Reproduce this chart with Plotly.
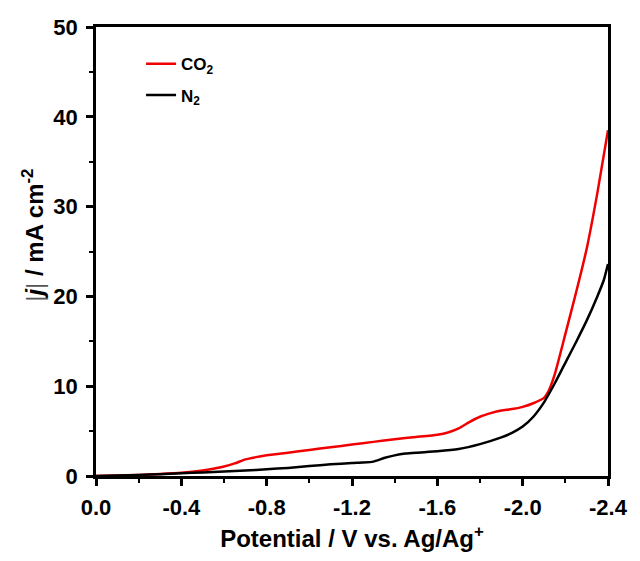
import plotly.graph_objects as go

# ---- data ----
co2_potential = [0, -0.1, -0.2, -0.3, -0.4, -0.5, -0.55, -0.6, -0.65, -0.7, -0.75, -0.8,
                 -0.9, -1.0, -1.1, -1.2, -1.3, -1.4, -1.5, -1.6, -1.65, -1.7, -1.75, -1.8,
                 -1.85, -1.9, -1.95, -2.0, -2.05, -2.1, -2.12, -2.15, -2.2, -2.25, -2.3,
                 -2.35, -2.4]
co2_current = [0, 0.05, 0.12, 0.22, 0.35, 0.6, 0.8, 1.05, 1.4, 1.85, 2.1, 2.3,
               2.6, 2.9, 3.2, 3.5, 3.8, 4.1, 4.35, 4.6, 4.85, 5.3, 6.0, 6.6,
               7.0, 7.3, 7.45, 7.7, 8.1, 8.7, 9.4, 11.3, 15.8, 20.4, 25.3,
               31.5, 38.5]

n2_potential = [0, -0.1, -0.2, -0.3, -0.4, -0.5, -0.6, -0.7, -0.8, -0.9, -1.0, -1.1,
                -1.2, -1.25, -1.3, -1.35, -1.4, -1.45, -1.5, -1.6, -1.7, -1.8, -1.9,
                -1.95, -2.0, -2.05, -2.1, -2.15, -2.2, -2.25, -2.3, -2.35, -2.38, -2.4]
n2_current = [0, 0.05, 0.12, 0.2, 0.3, 0.4, 0.5, 0.6, 0.75, 0.9, 1.1, 1.3,
              1.45, 1.5, 1.6, 2.0, 2.3, 2.5, 2.6, 2.75, 3.0, 3.55, 4.3,
              4.8, 5.5, 6.6, 8.2, 10.3, 12.6, 14.9, 17.3, 20.0, 21.8, 23.6]

x_tickvals = [0.0, -0.4, -0.8, -1.2, -1.6, -2.0, -2.4]
x_ticktext = ["0.0", "-0.4", "-0.8", "-1.2", "-1.6", "-2.0", "-2.4"]
y_tickvals = [0, 10, 20, 30, 40, 50]
y_ticktext = ["0", "10", "20", "30", "40", "50"]

FONT = "Liberation Sans, Arial, sans-serif"

fig = go.Figure()
fig.add_trace(go.Scatter(x=co2_potential, y=co2_current, mode="lines",
                         name="CO<sub>2</sub>", legendgroup="a",
                         line=dict(color="#f00000", width=2.5, shape="spline", smoothing=0.5)))
fig.add_trace(go.Scatter(x=n2_potential, y=n2_current, mode="lines",
                         name="N<sub>2</sub>", legendgroup="b",
                         line=dict(color="#000000", width=2.5, shape="spline", smoothing=0.5)))

axis_common = dict(showline=True, linecolor="black", linewidth=2.5, mirror=True,
                   ticks="outside", ticklen=7, tickwidth=2.5, tickcolor="black",
                   showgrid=False, zeroline=False,
                   tickfont=dict(family=FONT, size=22, color="black", weight="bold"))

fig.update_xaxes(range=[0, -2.4], tickvals=x_tickvals, ticktext=x_ticktext,
                 minor=dict(ticks="outside", ticklen=4, tickwidth=2, tickcolor="black", dtick=0.2, tick0=0),
                 ticklabelstandoff=3,
                 title=dict(text="Potential / V vs. Ag/Ag<sup>+</sup>",
                            font=dict(family=FONT, size=24, color="black", weight="bold"),
                            standoff=12),
                 **axis_common)
fig.update_yaxes(range=[0, 50], tickvals=y_tickvals, ticktext=y_ticktext,
                 minor=dict(ticks="outside", ticklen=4, tickwidth=2, tickcolor="black", dtick=5, tick0=0),
                 ticklabelstandoff=4,
                 **axis_common)

fig.add_annotation(xref="paper", yref="paper", x=-0.123, y=0.535, textangle=-90,
                   showarrow=False, xanchor="center", yanchor="middle",
                   text="<span style='font-weight:normal;color:#555'>|</span><i>j</i>"
                        "<span style='font-weight:normal;color:#555'>|</span> / mA cm<sup>-2</sup>",
                   font=dict(family=FONT, size=24, color="black", weight="bold"))

fig.update_layout(
    width=640, height=561,
    margin=dict(l=96, r=27, t=27, b=84),
    paper_bgcolor="white", plot_bgcolor="white",
    showlegend=True,
    legend=dict(x=0.088, y=0.957, xanchor="left", yanchor="top",
                bgcolor="rgba(0,0,0,0)", tracegroupgap=6,
                font=dict(family=FONT, size=17, color="black", weight="bold")),
)

fig.write_html("out.html")
